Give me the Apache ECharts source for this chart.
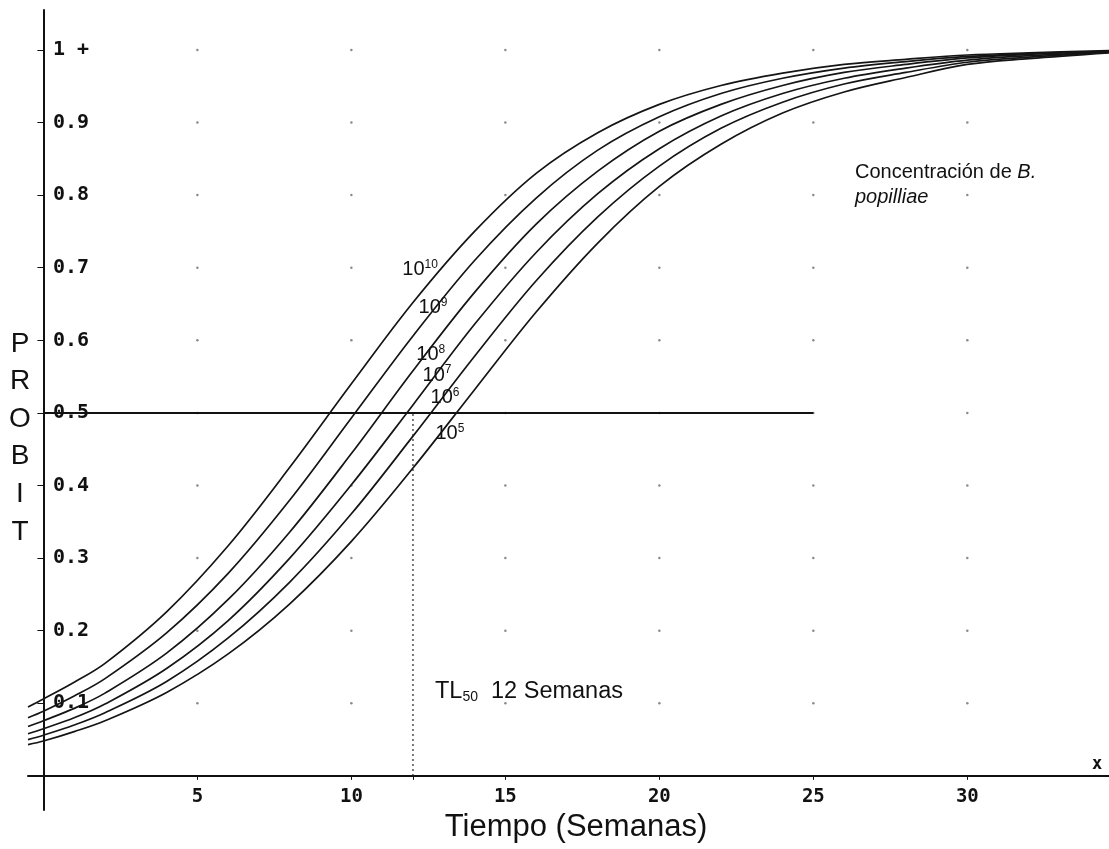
<!DOCTYPE html>
<html><head><meta charset="utf-8">
<script src="https://cdn.jsdelivr.net/npm/echarts@6/dist/echarts.min.js"></script>
<style>html,body{margin:0;padding:0;background:#fff}#c{width:1109px;height:849px}</style>
</head><body><div id="c"></div>
<script>
// ---- data ----
const weeks = [-0.5, 0, 1, 2, 4, 6, 8, 10, 12, 14, 16, 18, 20, 22, 24, 26, 28, 30, 32, 34.6];
const conc1e10 = [0.095, 0.106, 0.129, 0.155, 0.226, 0.317, 0.425, 0.540, 0.652, 0.750, 0.830, 0.886, 0.925, 0.951, 0.968, 0.980, 0.987, 0.993, 0.996, 0.999];
const conc1e9  = [0.080, 0.089, 0.110, 0.134, 0.197, 0.279, 0.380, 0.493, 0.606, 0.710, 0.796, 0.862, 0.908, 0.940, 0.961, 0.975, 0.984, 0.991, 0.995, 0.998];
const conc1e8  = [0.068, 0.076, 0.093, 0.114, 0.169, 0.243, 0.336, 0.444, 0.558, 0.666, 0.760, 0.833, 0.888, 0.925, 0.951, 0.969, 0.980, 0.989, 0.994, 0.998];
const conc1e7  = [0.058, 0.065, 0.080, 0.099, 0.148, 0.214, 0.300, 0.401, 0.511, 0.622, 0.721, 0.802, 0.864, 0.909, 0.940, 0.961, 0.975, 0.986, 0.992, 0.997];
const conc1e6  = [0.050, 0.056, 0.070, 0.087, 0.130, 0.190, 0.267, 0.361, 0.468, 0.578, 0.682, 0.770, 0.840, 0.892, 0.928, 0.953, 0.969, 0.983, 0.990, 0.997];
const conc1e5  = [0.043, 0.048, 0.061, 0.076, 0.115, 0.168, 0.237, 0.323, 0.424, 0.532, 0.639, 0.734, 0.812, 0.870, 0.913, 0.942, 0.962, 0.980, 0.988, 0.996];
const curveExponents = ['10', '9', '8', '7', '6', '5'];
const xTickValues = [5, 10, 15, 20, 25, 30];
const yTickValues = [0.1, 0.2, 0.3, 0.4, 0.5, 0.6, 0.7, 0.8, 0.9, 1.0];
const tl50Weeks = 12;
const probitLevel = 0.5;
const probitLineEnd = 25;

// annotation anchors (data coordinates) for the curve labels
const curveLabelAnchors = [[12.23, 0.697], [12.65, 0.645], [12.58, 0.58], [12.78, 0.552], [13.04, 0.521], [13.2, 0.471]];

const allCurves = [conc1e10, conc1e9, conc1e8, conc1e7, conc1e6, conc1e5];

const chart = echarts.init(document.getElementById('c'), null, {renderer: 'canvas'});

const curveSeries = allCurves.map((vals, i) => ({
  type: 'line',
  name: '10^' + curveExponents[i],
  data: weeks.map((t, j) => [t, vals[j]]),
  smooth: 0.35,
  symbol: 'none',
  silent: true,
  z: 3,
  lineStyle: {color: '#151515', width: 1.7}
}));

const dots = [];
xTickValues.forEach(x => yTickValues.forEach(y => dots.push([x, y])));

const labelRich = {
  b: {fontSize: 20, fontFamily: 'Liberation Sans', color: '#111', lineHeight: 22, textBorderWidth: 0},
  s: {fontSize: 12, fontFamily: 'Liberation Sans', color: '#111', lineHeight: 12, verticalAlign: 'top', textBorderWidth: 0}
};

const option = {
  backgroundColor: '#ffffff',
  animation: false,
  grid: {left: 28, right: 0, top: 10, bottom: 39, containLabel: false},
  xAxis: {
    type: 'value', min: -0.5, max: 34.6,
    axisLine: {onZero: true, lineStyle: {color: '#111', width: 2}},
    axisTick: {show: true, length: 4, customValues: xTickValues.concat([tl50Weeks]), lineStyle: {color: '#111'}},
    axisLabel: {customValues: xTickValues, margin: -22, color: '#111', fontFamily: 'DejaVu Sans Mono', fontWeight: 'bold', fontSize: 19},
    splitLine: {show: false}
  },
  yAxis: {
    type: 'value', min: -0.047, max: 1.055,
    axisLine: {onZero: true, lineStyle: {color: '#111', width: 2}},
    axisTick: {show: true, length: 6, customValues: yTickValues, lineStyle: {color: '#111'}},
    axisLabel: {inside: true, customValues: yTickValues, margin: 25, color: '#111', fontFamily: 'DejaVu Sans Mono', fontWeight: 'bold', fontSize: 20,
      formatter: v => (Math.abs(v - 1) < 1e-9 ? '1 +' : v.toFixed(1))},
    splitLine: {show: false}
  },
  series: [
    {type: 'scatter', data: dots, symbol: 'circle', symbolSize: 2.5, itemStyle: {color: '#8a8a8a', opacity: 1}, silent: true, z: 1},
    ...curveSeries,
    {type: 'line', data: [[0, probitLevel], [probitLineEnd, probitLevel]], symbol: 'none', silent: true, z: 4,
      lineStyle: {color: '#111', width: 2}},
    {type: 'line', data: [[tl50Weeks, 0], [tl50Weeks, probitLevel]], symbol: 'none', silent: true, z: 4,
      lineStyle: {color: '#222', width: 1.2, type: [2, 3]}},
    {type: 'scatter', symbolSize: 0, silent: true, z: 6, itemStyle: {color: '#111', opacity: 1},
      data: curveLabelAnchors.map((p, i) => ({value: p, itemStyle: {opacity: 1}, label: {
        show: true, position: 'inside', color: '#111', opacity: 1, textBorderWidth: 0,
        formatter: '{b|10}{s|' + curveExponents[i] + '}', rich: labelRich}}))}
  ],
  graphic: [
    {type: 'text', silent: true, style: {text: 'P\nR\nO\nB\nI\nT', x: 20, y: 325, textAlign: 'center',
      font: '28px "Liberation Sans"', lineHeight: 37.6, fill: '#111'}},
    {type: 'text', silent: true, style: {text: 'Tiempo (Semanas)', x: 576, y: 827, textAlign: 'center', textVerticalAlign: 'middle', verticalAlign: 'middle',
      font: '31px "Liberation Sans"', fill: '#111'}},
    {type: 'text', silent: true, style: {text: '{n|Concentración de }{i|B.}\n{i|popilliae}', x: 855, y: 160,
      rich: {n: {fontSize: 20, fontFamily: 'Liberation Sans', lineHeight: 25, fill: '#111', color: '#111'},
             i: {fontSize: 20, fontFamily: 'Liberation Sans', fontStyle: 'italic', lineHeight: 25, fill: '#111', color: '#111'}}}},
    {type: 'text', silent: true, style: {text: '{a|TL}{sub|50}{a|  12 Semanas}', x: 435, y: 679,
      rich: {a: {fontSize: 23.5, fontFamily: 'Liberation Sans', lineHeight: 25, color: '#111', fill: '#111'},
             sub: {fontSize: 14, fontFamily: 'Liberation Sans', lineHeight: 14, verticalAlign: 'bottom', color: '#111', fill: '#111'}}}},
    {type: 'text', silent: true, style: {text: 'x', x: 1097, y: 765, textAlign: 'center', textVerticalAlign: 'middle', verticalAlign: 'middle',
      font: 'bold 17px "DejaVu Sans Mono"', fill: '#111'}}
  ]
};
chart.setOption(option);
</script>
</body></html>
